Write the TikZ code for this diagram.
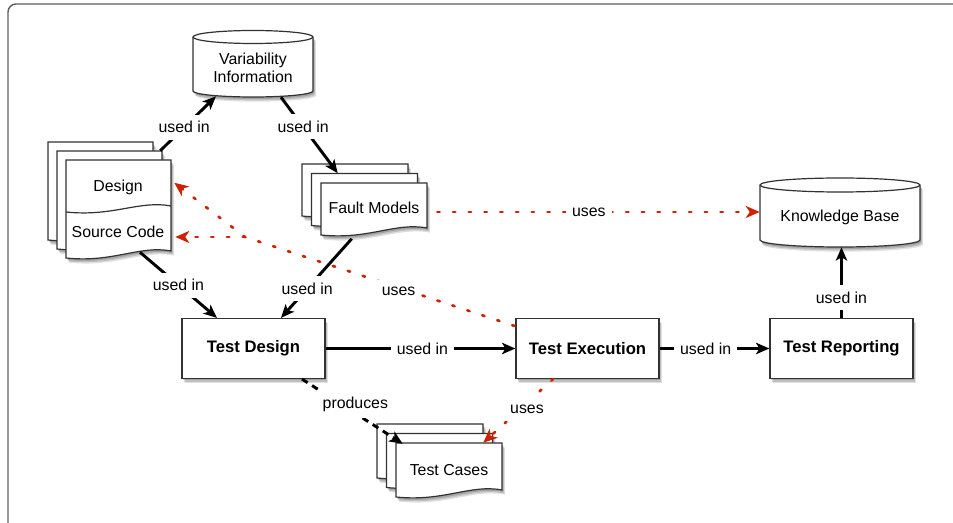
\documentclass[tikz,border=0pt]{standalone}
\usepackage{fontspec}
\setmainfont{Liberation Sans}
\usetikzlibrary{arrows.meta,shadows,calc}
\definecolor{usered}{RGB}{204,34,0}
\definecolor{framegray}{RGB}{95,95,95}
\definecolor{edgegray}{RGB}{50,50,50}
\newcommand\diagfont{\fontsize{11.9}{13.7}\selectfont}
\newcommand\boldfont{\fontsize{12.5}{14}\selectfont\bfseries}
\newcommand\docpage[4]{\path[shapeedge, softshadow] ({#1},{#2}) -- ({#3},{#2}) -- ({#3},{(#4)-7}) .. controls ({(#3)-0.3*((#3)-(#1))},{(#4)-13}) and ({(#1)+0.45*((#3)-(#1))},{(#4)+5}) .. ({#1},{#4}) -- cycle;}
\newcommand\docstack[5]{\docpage{(#1)-2*(#5)}{(#2)-2*(#5)}{(#3)-2*(#5)}{(#4)-2*(#5)}\docpage{(#1)-(#5)}{(#2)-(#5)}{(#3)-(#5)}{(#4)-(#5)}\docpage{#1}{#2}{#3}{#4}}
\begin{document}
\begin{tikzpicture}[x=0.75pt,y=-0.75pt,
  softshadow/.style={
    drop shadow={opacity=0.15, fill=black, shadow xshift=0.8pt, shadow yshift=-1.5pt},
    drop shadow={opacity=0.15, fill=black, shadow xshift=1.5pt, shadow yshift=-2.5pt},
    drop shadow={opacity=0.12, fill=black, shadow xshift=2.2pt, shadow yshift=-3.5pt}},
  shapeedge/.style={draw=edgegray, line width=0.9pt, fill=white},
  boxnode/.style={shapeedge, softshadow, minimum width=107.25pt, minimum height=45pt, font=\boldfont},
  body/.style={inner sep=0pt, font=\diagfont, align=center},
  lbl/.style={fill=white, inner xsep=4.5pt, inner ysep=5pt, font=\diagfont, text=black},
  usedin/.style={draw=black, line width=2.2pt, -{Stealth[length=10pt,width=8.5pt,inset=2.5pt]}},
  produces/.style={usedin, dash pattern=on 5pt off 4pt},
  uses/.style={draw=usered, line width=2pt, line cap=round, dash pattern=on 1.8pt off 10pt, -{Stealth[length=10.5pt,width=9pt,inset=3pt]}},
]
\useasboundingbox (0,0) rectangle (953,523);
\draw[framegray, line width=1.1pt, rounded corners=6] (8,580) -- (8,4) -- (1000,4);

% cylinders
\path[shapeedge, softshadow] (193,37) -- (193,91) arc[start angle=180, end angle=0, x radius=60, y radius=6] -- (313,37) arc[start angle=0, end angle=-180, x radius=60, y radius=6.5] -- cycle;
\draw[draw=edgegray, line width=0.9pt] (193,37) arc[start angle=180, end angle=0, x radius=60, y radius=6.5];
\path[shapeedge, softshadow] (760,185) -- (760,240) arc[start angle=180, end angle=0, x radius=80, y radius=7] -- (920,185) arc[start angle=0, end angle=-180, x radius=80, y radius=7] -- cycle;
\draw[draw=edgegray, line width=0.9pt] (760,185) arc[start angle=180, end angle=0, x radius=80, y radius=7];

% document stacks
\docstack{66}{160}{171}{258}{9}
\draw[draw=edgegray, line width=0.9pt] (171,206) .. controls (139.5,200) and (113,217) .. (66,212);
\docstack{321}{183}{427}{235}{9.5}
\docstack{396}{443}{502}{497}{9.5}

% named nodes
\node[body, minimum width=78.75pt, minimum height=73.5pt] (ds) at (118.5,209) {};
\node[body] (dsd) at (118,187) {Design};
\node[body] (dss) at (118,232) {Source Code};
\node[body, minimum width=79.5pt, minimum height=36.75pt] (fm) at (374,208) {Fault Models};
\node[body, minimum width=79.5pt, minimum height=40.5pt] (tc) at (449,470) {Test Cases};
\node[body, minimum width=90pt, minimum height=43.5pt] (vi) at (253,68) {Variability\\Information};
\node[body, minimum width=120pt, minimum height=45pt] (kb) at (840,217) {Knowledge Base};
\node[boxnode] (td) at (253.5,348.5) {Test Design};
\node[boxnode] (te) at (587.5,348.5) {Test Execution};
\node[boxnode] (tr) at (841.5,348.5) {Test Reporting};

% connectors
\draw[usedin] ($(ds.north east)+(-11,-9)$) -- node[lbl,pos=0.43]{used in} ($(vi.south)+(-37,-1)$);
\draw[usedin] ($(vi.south)+(28,0)$) -- node[lbl,pos=0.39]{used in} ($(fm.north west)+(17,-10)$);
\draw[usedin] ($(ds.south)+(21.5,-6)$) -- node[lbl,pos=0.5]{used in} ($(td.north)+(-36.5,0)$);
\draw[usedin] ($(fm.south west)+(31,6)$) -- node[lbl,pos=0.63]{used in} ($(td.north)+(27.5,0)$);
\draw[usedin] (td.east) -- node[lbl,pos=0.51]{used in} (te.west);
\draw[usedin] (te.east) -- node[lbl,pos=0.42]{used in} (tr.west);
\draw[usedin] (tr.north) -- node[lbl,pos=0.29]{used in} (tr.north |- kb.south);
\draw[produces] ($(td.south)+(48.5,0)$) -- node[lbl,pos=0.45,xshift=6pt,yshift=3pt]{produces} ($(tc.north west)+(7,1)$);
\draw[uses] ($(te.south)+(-34.5,0)$) -- node[lbl,pos=0.45,xshift=4pt,yshift=-1.5pt]{uses} ($(tc.north east)+(-19,0)$);
\draw[uses] ($(fm.east)+(10,4)$) -- node[lbl,pos=0.47]{uses} ($(kb.west)+(0,-5)$);
\coordinate (br) at (245,237);
\draw[uses] ($(te.north west)+(-1,8)$) -- node[lbl,pos=0.43,yshift=-2.5pt]{uses} (br) -- ($(ds.north east)+(3,23)$);
\draw[uses] (br) -- ($(ds.east)+(4,28)$);
\end{tikzpicture}
\end{document}
